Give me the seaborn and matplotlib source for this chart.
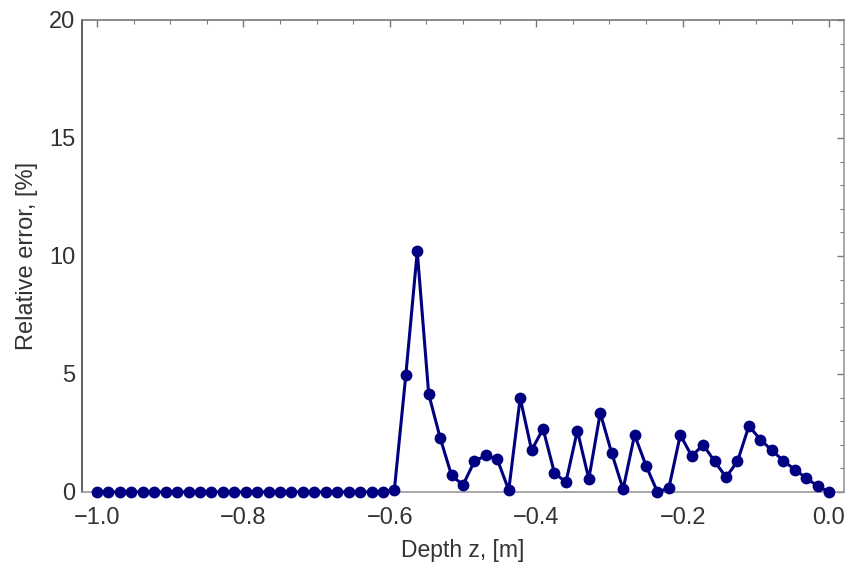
import numpy as np
import pandas as pd
import seaborn as sns
import matplotlib.pyplot as plt
from matplotlib.ticker import MultipleLocator

depth = [-1 + i / 64 for i in range(65)]
rel_error = [0.0] * 26 + [
    0.1, 4.95, 10.2, 4.15, 2.3, 0.7, 0.3, 1.3, 1.55, 1.38, 0.08,
    3.98, 1.77, 2.68, 0.8, 0.42, 2.6, 0.55, 3.35, 1.65, 0.12,
    2.42, 1.12, 0.0, 0.17, 2.42, 1.52, 2.0, 1.3, 0.63, 1.3,
    2.8, 2.22, 1.77, 1.33, 0.95, 0.6, 0.25, 0.0,
]
df = pd.DataFrame({"depth": depth, "err": rel_error})

sns.set_theme(style="white")
plt.rcParams["font.family"] = ["Liberation Sans", "DejaVu Sans"]

fig = plt.figure(figsize=(8.49, 5.67), dpi=100)
ax = fig.add_axes([82 / 849, 1 - 492 / 567, (844 - 82) / 849, (492 - 20) / 567])

navy = "#000080"
sns.lineplot(data=df, x="depth", y="err", ax=ax, color=navy, linewidth=2.2,
             marker="o", markersize=8.5, markeredgewidth=0, clip_on=False, zorder=3)

ax.set_xlim(-1.0205, 0.0205)
ax.set_ylim(0, 20)
ax.xaxis.set_major_locator(MultipleLocator(0.2))
ax.xaxis.set_minor_locator(MultipleLocator(0.05))
ax.yaxis.set_major_locator(MultipleLocator(5))
ax.yaxis.set_minor_locator(MultipleLocator(1))
ax.xaxis.set_major_formatter(plt.FuncFormatter(lambda v, p: f"{v:.1f}".replace("-", "\u2212") if abs(v) > 1e-9 else "0.0"))
ax.yaxis.set_major_formatter(plt.FuncFormatter(lambda v, p: f"{v:.0f}"))

ax.tick_params(which="both", direction="in", top=True, right=True, color="#777777",
               labelcolor="#333333", labelsize=17)
ax.tick_params(axis="x", which="major", pad=11)
ax.tick_params(axis="y", which="major", pad=5)
ax.tick_params(which="major", length=5, width=1)
ax.tick_params(which="minor", length=3, width=0.8)
ax.tick_params(axis="x", which="both", labeltop=False)
ax.tick_params(axis="y", which="both", labelright=False)

for side, col in [("left", "#444444"), ("bottom", "#999999"), ("top", "#777777"), ("right", "#999999")]:
    ax.spines[side].set_visible(True)
    ax.spines[side].set_color(col)
    ax.spines[side].set_linewidth(1.2)

ax.set_xlabel("Depth z, [m]", fontsize=16.5, color="#333333", labelpad=7)
ax.set_ylabel("Relative error, [%]", fontsize=17, color="#333333", labelpad=8)

fig.savefig("out.png", dpi=100)
